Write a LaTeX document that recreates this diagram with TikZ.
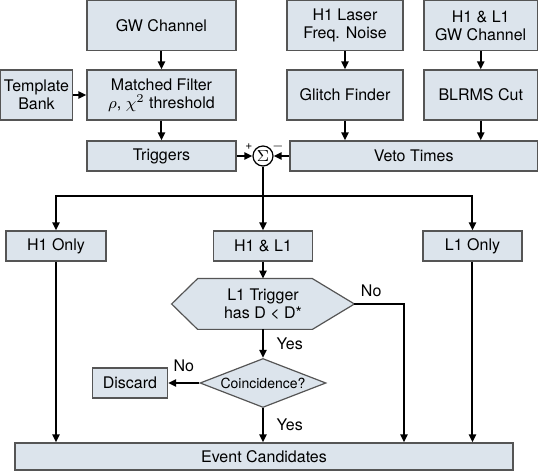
\documentclass[tikz,border=0pt]{standalone}
\usepackage{fontspec}
\setmainfont{TeX Gyre Heros}
\usetikzlibrary{arrows.meta,shapes.geometric,backgrounds}
\definecolor{boxfill}{RGB}{220,228,236}
\definecolor{boxline}{RGB}{85,85,85}

\begin{document}
\begin{tikzpicture}[x=0.5pt,y=-0.5pt,
    font=\fontsize{8}{9}\selectfont,
    block/.style={draw=boxline,fill=boxfill,line width=0.6pt,inner sep=0pt,align=center},
    flow/.style={line width=1pt,-{Triangle[length=4pt,width=3.5pt]}}]
    \useasboundingbox (0,0) rectangle (538,471);

    % inputs
    \node[block,minimum width=74.5pt,minimum height=25pt] (gw) at (161.5,25.5) {GW Channel};
    \node[block,minimum width=58pt,minimum height=25pt] (laser) at (345,25.5) {H1 Laser\\Freq. Noise};
    \node[block,minimum width=56.75pt,minimum height=25pt] (h1l1gw) at (480.75,25.5) {H1 \& L1\\GW Channel};
    \node[block,minimum width=36pt,minimum height=25pt] (tbank) at (36.5,95) {Template\\Bank};

    \node[block,minimum width=74.5pt,minimum height=25pt] (mf) at (161.5,95) {Matched Filter\\$\rho$, $\chi^2$ threshold};
    \node[block,minimum width=58pt,minimum height=25pt] (glitch) at (345,95) {Glitch Finder};
    \node[block,minimum width=56.75pt,minimum height=25pt] (blrms) at (480.75,95) {BLRMS Cut};

    \node[block,minimum width=74.5pt,minimum height=15pt] (trig) at (161.5,156) {Triggers};
    \node[block,minimum width=123.75pt,minimum height=15pt] (veto) at (413.75,156) {Veto Times};
    \node[draw,circle,fill=white,line width=0.6pt,inner sep=0pt,minimum size=10pt] (sum) at (263,156) {$\Sigma$};
    \node[font=\fontsize{6}{6}\selectfont] (plus) at (249,147) {+};
    \node[font=\fontsize{6}{6}\selectfont] (minus) at (278,147) {$-$};

    % detector split
    \coordinate (split) at (263,196);
    \node[block,minimum width=50pt,minimum height=15pt] (h1only) at (56,246) {H1 Only};
    \node[block,minimum width=49.5pt,minimum height=15pt] (both) at (263,246) {H1 \& L1};
    \node[block,minimum width=49.5pt,minimum height=15pt] (l1only) at (472.5,246) {L1 Only};

    \node[inner sep=0pt,minimum width=91pt,minimum height=25pt,align=center] (dcut) at (263,304) {L1 Trigger\\has D < D*};
    \node[block,diamond,aspect=2.6,minimum width=63pt,minimum height=24.5pt,font=\fontsize{7}{8}\selectfont] (coinc) at (263,383) {Coincidence?};
    \node[block,minimum width=37.5pt,minimum height=15pt] (discard) at (130,383) {Discard};
    \node[block,minimum width=249pt,minimum height=13.5pt] (events) at (264,456.5) {Event Candidates};
    \coordinate (noturn) at (404,304);

    \begin{scope}[on background layer]
        \draw[draw=boxline,fill=boxfill,line width=0.6pt] (dcut.west) -- ([xshift=13pt]dcut.north west)
            -- ([xshift=-21pt]dcut.north east) -- (dcut.east) -- ([xshift=-21pt]dcut.south east)
            -- ([xshift=13pt]dcut.south west) -- cycle;
    \end{scope}

    \draw[flow] (gw) -- (mf);
    \draw[flow] (tbank) -- (mf);
    \draw[flow] (mf) -- (trig);
    \draw[flow] (laser) -- (glitch);
    \draw[flow] (h1l1gw) -- (blrms);
    \draw[flow] (glitch) -- (glitch |- veto.north);
    \draw[flow] (blrms) -- (blrms |- veto.north);
    \draw[flow] (trig) -- (sum);
    \draw[flow] (veto) -- (sum);

    \draw[flow] (sum) -- (both);
    \draw[flow] (split) -| (h1only);
    \draw[flow] (split) -| (l1only);
    \draw[flow] (both) -- (dcut);

    \draw[flow] (dcut) -- node[right,xshift=3pt] {Yes} (coinc);
    \draw[flow] (dcut.east) -- node[above,xshift=-4pt] {No} (noturn) -- (noturn |- events.north);
    \draw[flow] (coinc) -- node[above,yshift=2pt] {No} (discard);
    \draw[flow] (coinc) -- node[right,xshift=3pt] {Yes} (coinc |- events.north);
    \draw[flow] (h1only) -- (h1only |- events.north);
    \draw[flow] (l1only) -- (l1only |- events.north);
\end{tikzpicture}
\end{document}
